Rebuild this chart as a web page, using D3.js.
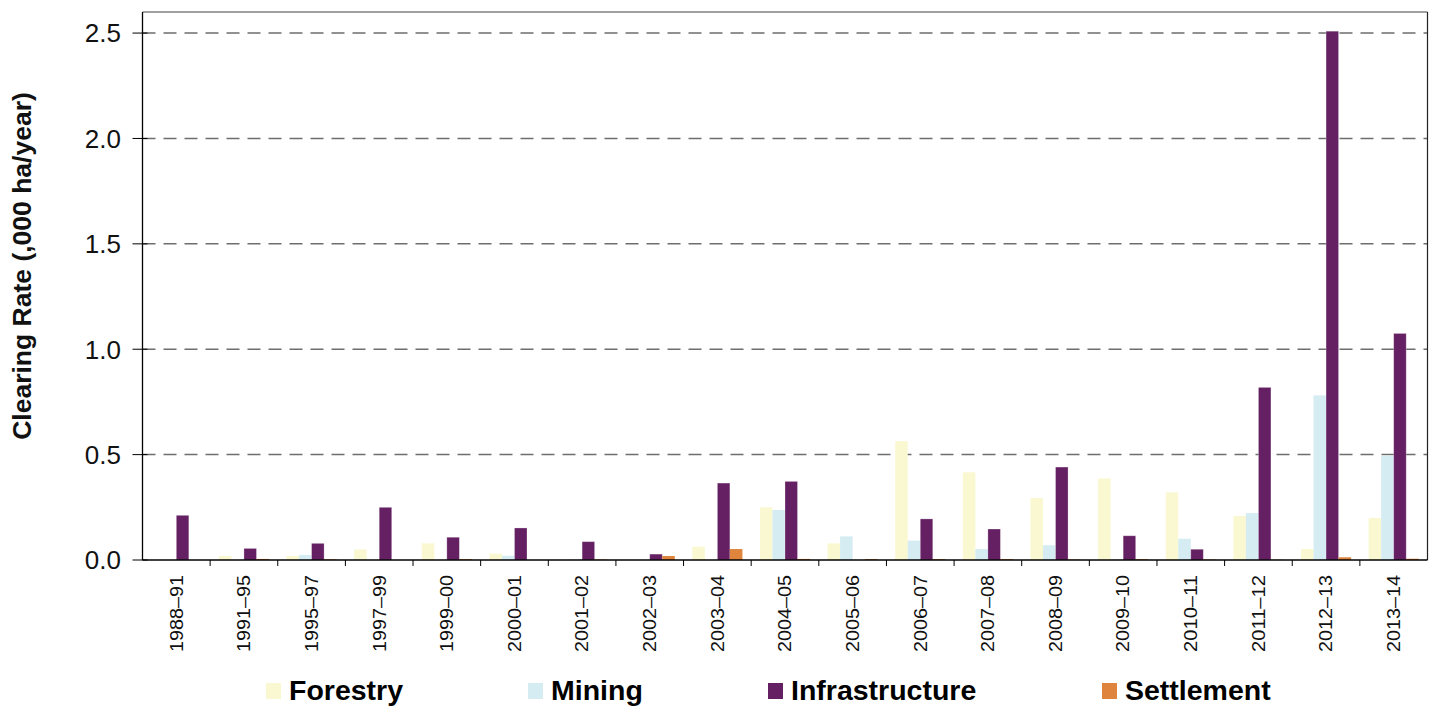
<!DOCTYPE html>
<html lang="en">
<head>
  <meta charset="UTF-8">
  <title>Clearing Rate</title>
  <script src="https://d3js.org/d3.v7.min.js"></script>
  <style>
    html, body { margin: 0; padding: 0; background: #fff; }
    svg { display: block; font-family: "Liberation Sans", Arial, sans-serif; }
  </style>
</head>
<body>
  <div id="chart"></div>
  <script>
    // Data (thousand ha / year)
    const categories = ["1988–91", "1991–95", "1995–97", "1997–99", "1999–00", "2000–01", "2001–02",
      "2002–03", "2003–04", "2004–05", "2005–06", "2006–07", "2007–08", "2008–09", "2009–10",
      "2010–11", "2011–12", "2012–13", "2013–14"];
    const forestry = [0, 0.019, 0.019, 0.05, 0.079, 0.03, 0, 0, 0.063, 0.25, 0.079, 0.564, 0.416, 0.294, 0.387, 0.321, 0.209, 0.052, 0.199];
    const mining = [0, 0, 0.024, 0, 0, 0.02, 0.003, 0, 0, 0.237, 0.112, 0.092, 0.052, 0.07, 0.003, 0.101, 0.223, 0.781, 0.495];
    const infrastructure = [0.212, 0.055, 0.079, 0.25, 0.108, 0.152, 0.087, 0.028, 0.365, 0.373, 0, 0.195, 0.147, 0.441, 0.115, 0.051, 0.819, 2.509, 1.075];
    const settlement = [0, 0.005, 0.003, 0, 0.004, 0, 0.002, 0.019, 0.052, 0.005, 0.004, 0.004, 0.004, 0.002, 0.004, 0.002, 0.001, 0.013, 0.006];
    const seriesNames = ["Forestry", "Mining", "Infrastructure", "Settlement"];
    const yTicks = [0, 0.5, 1.0, 1.5, 2.0, 2.5];

    const seriesValues = [forestry, mining, infrastructure, settlement];
    const colors = ["#faf8d0", "#d4ecf2", "#642062", "#de843c"];

    // Dimensions
    const width = 1439, height = 709;
    const plot = { left: 142.5, right: 1427.5, top: 12, bottom: 560 };

    const svg = d3.select("#chart").append("svg")
      .attr("width", width)
      .attr("height", height);

    const x0 = d3.scaleBand()
      .domain(categories)
      .range([plot.left, plot.right])
      .padding(0);

    const x1 = d3.scaleBand()
      .domain(seriesNames)
      .range([0, x0.bandwidth()])
      .paddingInner(0)
      .paddingOuter(0.7);

    const y = d3.scaleLinear()
      .domain([0, 2.6])
      .range([plot.bottom, plot.top]);

    // Dashed gridlines
    svg.append("g")
      .selectAll("line")
      .data(yTicks.filter(d => d > 0))
      .join("line")
      .attr("x1", plot.left)
      .attr("x2", plot.right)
      .attr("y1", d => y(d))
      .attr("y2", d => y(d))
      .attr("stroke", "#6e6e6e")
      .attr("stroke-width", 1.5)
      .attr("stroke-dasharray", "13,8");

    // Frame: top (grey) and right
    svg.append("line")
      .attr("x1", plot.left).attr("x2", plot.right)
      .attr("y1", plot.top).attr("y2", plot.top)
      .attr("stroke", "#808080").attr("stroke-width", 1.5);
    svg.append("line")
      .attr("x1", plot.right).attr("x2", plot.right)
      .attr("y1", plot.top).attr("y2", plot.bottom)
      .attr("stroke", "#222").attr("stroke-width", 1.2);

    // Bars
    const rows = categories.map((c, i) => ({
      cat: c,
      bars: seriesNames.map((s, j) => ({ key: s, value: seriesValues[j][i], color: colors[j] }))
    }));

    svg.append("g")
      .selectAll("g")
      .data(rows)
      .join("g")
      .attr("transform", d => `translate(${x0(d.cat)},0)`)
      .selectAll("rect")
      .data(d => d.bars.filter(b => b.value > 0))
      .join("rect")
      .attr("x", d => x1(d.key))
      .attr("width", x1.bandwidth())
      .attr("y", d => y(d.value))
      .attr("height", d => y(0) - y(d.value))
      .attr("fill", d => d.color)
      .attr("stroke", d => d.key === "Infrastructure" ? "#ffffff" : "none")
      .attr("stroke-opacity", 0.35)
      .attr("stroke-width", 0.8);

    // Y axis
    const yAxis = svg.append("g");
    yAxis.append("line")
      .attr("x1", plot.left).attr("x2", plot.left)
      .attr("y1", plot.top).attr("y2", plot.bottom)
      .attr("stroke", "#000").attr("stroke-width", 1.3);
    yAxis.selectAll(".ytick")
      .data(yTicks)
      .join("line")
      .attr("class", "ytick")
      .attr("x1", plot.left - 10).attr("x2", plot.left + 5)
      .attr("y1", d => y(d)).attr("y2", d => y(d))
      .attr("stroke", "#000").attr("stroke-width", 1);
    yAxis.selectAll(".ylabel")
      .data(yTicks)
      .join("text")
      .attr("class", "ylabel")
      .attr("x", 121)
      .attr("y", d => y(d))
      .attr("dy", "0.36em")
      .attr("text-anchor", "end")
      .style("font-size", "26px")
      .style("fill", "#111")
      .text(d => d3.format(".1f")(d));

    // Y title
    svg.append("text")
      .attr("transform", `translate(31,266) rotate(-90)`)
      .attr("text-anchor", "middle")
      .style("font-size", "26.5px")
      .style("font-weight", "bold")
      .style("fill", "#111")
      .text("Clearing Rate (,000 ha/year)");

    // X axis
    const xAxis = svg.append("g");
    xAxis.append("line")
      .attr("x1", plot.left).attr("x2", plot.right)
      .attr("y1", plot.bottom).attr("y2", plot.bottom)
      .attr("stroke", "#000").attr("stroke-width", 1.3);
    xAxis.selectAll(".xtick")
      .data(categories.slice(1))
      .join("line")
      .attr("class", "xtick")
      .attr("x1", d => x0(d)).attr("x2", d => x0(d))
      .attr("y1", plot.bottom).attr("y2", plot.bottom + 6)
      .attr("stroke", "#000").attr("stroke-width", 1);
    xAxis.selectAll(".xlabel")
      .data(categories)
      .join("text")
      .attr("class", "xlabel")
      .attr("transform", d => `translate(${x0(d) + x0.bandwidth() / 2},575) rotate(-90)`)
      .attr("dy", "0.36em")
      .attr("text-anchor", "end")
      .attr("textLength", 77)
      .attr("lengthAdjust", "spacingAndGlyphs")
      .style("font-size", "17.5px")
      .style("fill", "#111")
      .text(d => d);

    // Legend
    const legendX = [266, 528, 768, 1102];
    const legend = svg.append("g")
      .selectAll("g")
      .data(seriesNames)
      .join("g")
      .attr("transform", (d, i) => `translate(${legendX[i]},683)`);
    legend.append("rect")
      .attr("width", 15)
      .attr("height", 16)
      .attr("fill", (d, i) => colors[i]);
    legend.append("text")
      .attr("x", 23)
      .attr("y", 17)
      .style("font-size", "28.5px")
      .style("font-weight", "bold")
      .style("fill", "#000")
      .text(d => d);
  </script>
</body>
</html>
